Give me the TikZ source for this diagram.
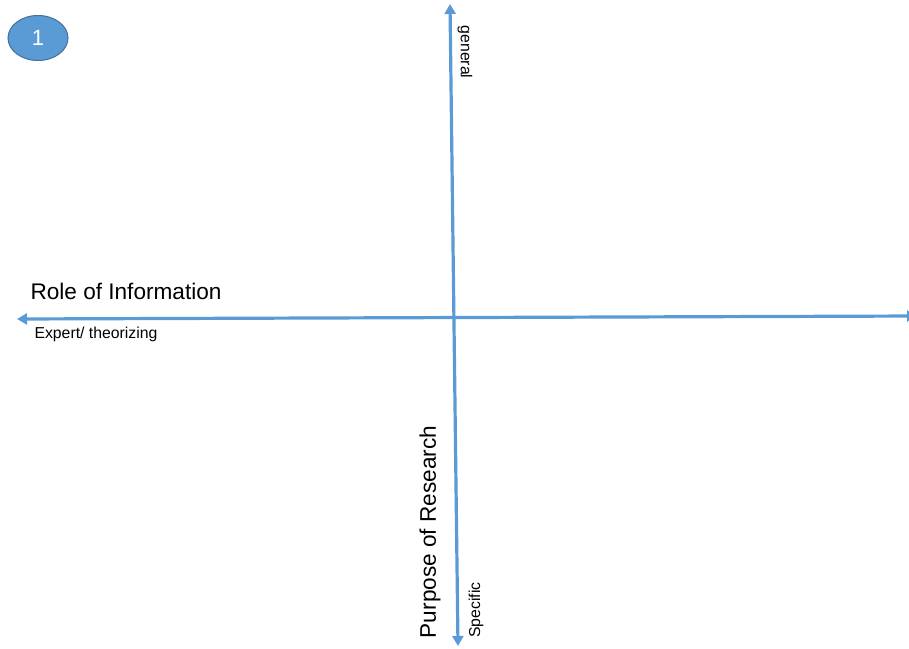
\documentclass[tikz,border=0pt]{standalone}
\usepackage{fontspec}
\setmainfont{Liberation Sans}
\usetikzlibrary{arrows.meta,shapes.geometric}
\definecolor{axisblue}{HTML}{5B9BD5}
\definecolor{badgeedge}{HTML}{41719C}
\tikzset{
  axis/.style={draw=axisblue, line width=3.2pt, {Triangle[width=11pt,length=10pt]}-{Triangle[width=11pt,length=10pt]}},
  bigtxt/.style={font=\fontsize{22.6}{26}\selectfont, inner sep=0pt},
  smalltxt/.style={font=\fontsize{15.8}{18}\selectfont, inner sep=0pt},
  badge/.style={ellipse, draw=badgeedge, line width=1pt, fill=axisblue, minimum width=60pt, minimum height=45pt, text=white, font=\fontsize{22}{26}\selectfont}
}
\begin{document}
\begin{tikzpicture}[x=1pt,y=-1pt]
\useasboundingbox (0,0) rectangle (909,648);
\node[badge] (one) at (38,38) {1};
\coordinate (left) at (17,319);
\coordinate (right) at (917,316);
\coordinate (top) at (450,4);
\coordinate (bottom) at (458,646);
\draw[axis] (left) -- (right);
\draw[axis] (top) -- (bottom);
\node[bigtxt] (role) at (126,291) {Role of Information};
\node[smalltxt] (expert) at (96,334) {Expert/ theorizing};
\node[smalltxt, rotate=-90] (general) at (465,52) {general};
\node[smalltxt, rotate=90] (specific) at (476,610) {Specific};
\node[bigtxt, rotate=90] (purpose) at (430,532) {Purpose of Research};
\end{tikzpicture}
\end{document}
